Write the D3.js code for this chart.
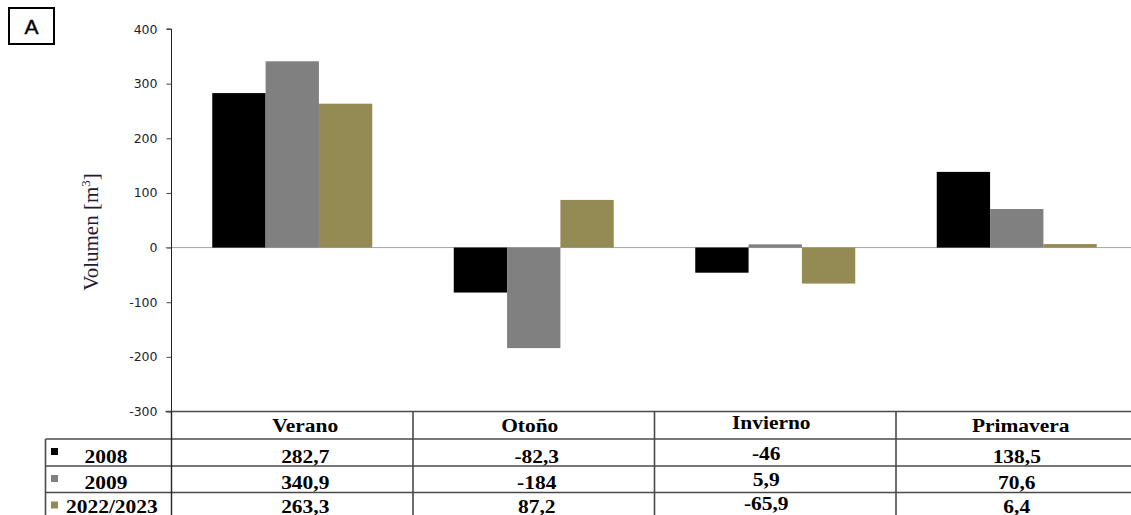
<!DOCTYPE html>
<html>
<head>
<meta charset="utf-8">
<script src="https://cdn.jsdelivr.net/npm/d3@7"></script>
<style>
  html, body { margin: 0; padding: 0; background: #fff; }
  svg { display: block; }
</style>
</head>
<body>
<svg id="chart" width="1131" height="515"></svg>
<script>
// Seasonal volume change by year
const seasons = ["Verano", "Otoño", "Invierno", "Primavera"];
const years = ["2008", "2009", "2022/2023"];
const v2008 = [282.7, -82.3, -46, 138.5];
const v2009 = [340.9, -184, 5.9, 70.6];
const v2022 = [263.3, 87.2, -65.9, 6.4];
const labels2008 = ["282,7", "-82,3", "-46", "138,5"];
const labels2009 = ["340,9", "-184", "5,9", "70,6"];
const labels2022 = ["263,3", "87,2", "-65,9", "6,4"];
const yTicks = [400, 300, 200, 100, 0, -100, -200, -300];

const series = [
  { name: years[0], values: v2008, labels: labels2008, color: "#000000" },
  { name: years[1], values: v2009, labels: labels2009, color: "#808080" },
  { name: years[2], values: v2022, labels: labels2022, color: "#948a54" }
];

const svg = d3.select("#chart");

const axisX = 171.5;
const step = 241.5;
const x = d3.scaleBand()
  .domain(seasons)
  .range([axisX, axisX + step * seasons.length])
  .paddingInner(0)
  .paddingOuter(0);
const inner = d3.scaleBand()
  .domain(years)
  .range([40.75, step - 40.75])
  .padding(0);
const y = d3.scaleLinear().domain([-300, 400]).range([411.5, 29]);

// "A" panel tag
svg.append("rect")
  .attr("x", 9).attr("y", 8).attr("width", 45).attr("height", 36)
  .attr("fill", "none").attr("stroke", "#000").attr("stroke-width", 2);
svg.append("text")
  .attr("x", 31.5).attr("y", 33.5)
  .attr("text-anchor", "middle")
  .attr("font-family", "Liberation Sans, Arial, sans-serif")
  .attr("font-size", 21)
  .attr("stroke", "#000").attr("stroke-width", 0.4)
  .attr("fill", "#000")
  .text("A");

// zero line
svg.append("line")
  .attr("x1", axisX - 6).attr("x2", 1131)
  .attr("y1", y(0)).attr("y2", y(0))
  .attr("stroke", "#a6a6a6").attr("stroke-width", 1);

// bars
series.forEach(s => {
  svg.append("g").selectAll("rect")
    .data(seasons.map((c, i) => ({ c, v: s.values[i] })))
    .join("rect")
    .attr("x", d => x(d.c) + inner(s.name))
    .attr("width", inner.bandwidth())
    .attr("y", d => y(Math.max(0, d.v)))
    .attr("height", d => Math.abs(y(d.v) - y(0)))
    .attr("fill", s.color);
});

// y axis (plain hyphen for negative numbers)
const yAxis = d3.axisLeft(y).tickValues(yTicks).tickSize(5).tickPadding(9)
  .tickFormat(d => String(d));
const gy = svg.append("g")
  .attr("transform", `translate(${axisX},0)`)
  .call(yAxis);
gy.select(".domain").attr("stroke", "#222").attr("d", `M-5,${y(400)}H0V${y(-300)}`);
gy.selectAll(".tick line").attr("stroke", "#444");
gy.selectAll(".tick text")
  .attr("font-family", "DejaVu Sans, Verdana, sans-serif")
  .attr("font-size", 12.5)
  .attr("fill", "#1e1e2e");

// y label
const yl = svg.append("text")
  .attr("transform", "translate(98,232) rotate(-90)")
  .attr("text-anchor", "middle")
  .attr("font-family", "Liberation Serif, Times New Roman, serif")
  .attr("font-size", 21)
  .attr("fill", "#231a33");
yl.append("tspan").text("Volumen [m");
yl.append("tspan").attr("font-size", 13).attr("dy", -8).text("3");
yl.append("tspan").attr("dy", 8).text("]");

// data table
const tableTop = y(-300);
const rowTops = [tableTop, 439, 466, 492.5];
const tableBottom = 520;
const legendLeft = 45.5;
const rightEdge = 1131;
const lineColor = "#4a4a4a";
const tbl = svg.append("g");

// horizontal rules
tbl.append("line")
  .attr("x1", axisX - 6).attr("x2", rightEdge)
  .attr("y1", tableTop).attr("y2", tableTop)
  .attr("stroke", lineColor).attr("stroke-width", 1.6);
rowTops.slice(1).forEach(t => {
  tbl.append("line")
    .attr("x1", legendLeft).attr("x2", rightEdge)
    .attr("y1", t).attr("y2", t)
    .attr("stroke", lineColor).attr("stroke-width", 1.6);
});
// vertical rules
tbl.append("line")
  .attr("x1", legendLeft).attr("x2", legendLeft)
  .attr("y1", rowTops[1]).attr("y2", tableBottom)
  .attr("stroke", lineColor).attr("stroke-width", 1.6);
tbl.append("line")
  .attr("x1", axisX).attr("x2", axisX)
  .attr("y1", tableTop).attr("y2", tableBottom)
  .attr("stroke", "#222").attr("stroke-width", 1.4);
seasons.slice(1).forEach(c => {
  tbl.append("line")
    .attr("x1", x(c)).attr("x2", x(c))
    .attr("y1", tableTop).attr("y2", tableBottom)
    .attr("stroke", lineColor).attr("stroke-width", 1.6);
});

function cellText(cx, baseline, str, size, sx) {
  const g = tbl.append("g").attr("transform", `translate(${cx},${baseline}) scale(${sx},1)`);
  return g.append("text")
    .attr("text-anchor", "middle")
    .attr("font-family", "Liberation Serif, Times New Roman, serif")
    .attr("font-weight", "bold")
    .attr("font-size", size)
    .attr("fill", "#000")
    .text(str);
}

// per-column nudges of the cell text
const headShiftX = [13, -4, -4, 4];
const valShiftX = [13, 3, -9, 0];
const colShiftY = [0, 0, -3, 0];

// header row
seasons.forEach((c, i) => {
  cellText(x(c) + x.bandwidth() / 2 + headShiftX[i], tableTop + 20.5 + colShiftY[i], c, 19.5, 1.1);
});

// value rows
const baselines = [463, 489, 512.5];
series.forEach((s, r) => {
  s.labels.forEach((lab, i) => {
    cellText(x(seasons[i]) + x.bandwidth() / 2 + valShiftX[i], baselines[r] + colShiftY[i], lab, 18.5, 1.16);
  });
  // legend key
  tbl.append("rect")
    .attr("x", 51).attr("y", rowTops[r + 1] + 9)
    .attr("width", 7).attr("height", 7)
    .attr("fill", s.color);
  // legend label
  const g = tbl.append("g");
  const t = g.append("text")
    .attr("font-family", "Liberation Serif, Times New Roman, serif")
    .attr("font-weight", "bold")
    .attr("font-size", 18.5)
    .attr("fill", "#000")
    .text(s.name);
  const w = t.node().getComputedTextLength() * 1.16;
  const left = Math.max(106 - w / 2, 66);
  g.attr("transform", `translate(${left},${baselines[r]}) scale(1.16,1)`);
});
</script>
</body>
</html>
